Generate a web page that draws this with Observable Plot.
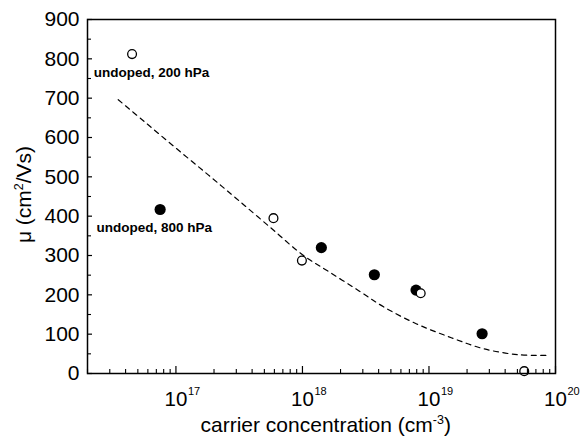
<!DOCTYPE html>
<html><head><meta charset="utf-8">
<script src="https://cdn.jsdelivr.net/npm/d3@7"></script>
<script src="https://cdn.jsdelivr.net/npm/@observablehq/plot@0.6"></script>
<style>body{margin:0;background:#fff}</style>
</head><body><div id="chart"></div>
<script>
// open circles
const openConc = [4.5e16, 5.9e17, 9.9e17, 8.6e18, 5.66e19];
const openMu   = [812, 395, 287, 204, 6];
// filled circles
const filledConc = [7.5e16, 1.41e18, 3.7e18, 7.9e18, 2.63e19];
const filledMu   = [417, 320, 251, 212, 101];
// dashed model curve
const curveConc = [3.5e16, 5.6e16, 1e17, 1.8e17, 3e17, 5.5e17, 1e18, 1.65e18, 2.8e18, 4.4e18, 8e18, 1.5e19, 2.7e19, 5e19, 8.6e19];
const curveMu   = [696, 641, 573, 505, 445, 373, 302, 257, 210, 169, 126, 91, 63, 48, 46];
// annotations
const noteText = ["undoped, 200 hPa", "undoped, 800 hPa"];
const noteConc = [2.24e16, 2.36e16];
const noteMu   = [755, 361];
// ticks
const decadeTicks = [1e17, 1e18, 1e19, 1e20];
const minorXTicks = [16, 17, 18, 19].flatMap(e => [2,3,4,5,6,7,8,9].map(m => m * 10 ** e));
const yTicks = [0, 100, 200, 300, 400, 500, 600, 700, 800, 900];
const yMinorTicks = [50, 150, 250, 350, 450, 550, 650, 750, 850];
const xLabel = "carrier concentration (cm-3)";
const yLabel = "μ (cm2/Vs)";

const open = openConc.map((x, i) => ({x, y: openMu[i]}));
const filled = filledConc.map((x, i) => ({x, y: filledMu[i]}));
const curve = curveConc.map((x, i) => ({x, y: curveMu[i]}));
const notes = noteText.map((t, i) => ({t, x: noteConc[i], y: noteMu[i]}));

const W = 580, H = 437, mL = 87, mR = 25, mT = 19, mB = 64;
const pw = W - mL - mR, ph = H - mT - mB;
const font = "'Liberation Sans', Arial, Helvetica, sans-serif";

const chart = Plot.plot({
  width: W, height: H,
  marginLeft: mL, marginRight: mR, marginTop: mT, marginBottom: mB,
  style: {fontFamily: font, background: "#fff", color: "#000", overflow: "visible"},
  x: {type: "log", domain: [2e16, 1e20], axis: null},
  y: {domain: [0, 900]},
  marks: [
    Plot.line(curve, {x: "x", y: "y", stroke: "#000", strokeWidth: 1.2, strokeDasharray: "5,4.5", curve: "catmull-rom"}),
    Plot.dot(filled, {x: "x", y: "y", r: 5.6, fill: "#000", stroke: "none"}),
    Plot.dot(open, {x: "x", y: "y", r: 4.4, fill: "#fff", stroke: "#000", strokeWidth: 1.3}),
    Plot.tickX(decadeTicks, {x: d => d, insetTop: ph - 7, stroke: "#000", strokeWidth: 1.2}),
    Plot.tickX(minorXTicks, {x: d => d, insetTop: ph - 4, stroke: "#000", strokeWidth: 1.1}),
    Plot.tickY(yTicks, {y: d => d, insetRight: pw - 5, stroke: "#000", strokeWidth: 1.2}),
    Plot.tickY(yMinorTicks, {y: d => d, insetRight: pw - 4, stroke: "#000", strokeWidth: 1.1}),
    Plot.frame({stroke: "#000", strokeWidth: 1.5}),
    Plot.axisY({ticks: yTicks, tickSize: 0, tickPadding: 8, fontSize: 21, label: null, tickFormat: d => String(d)}),
    Plot.text(decadeTicks, {x: d => d, frameAnchor: "bottom", text: () => "10", textAnchor: "middle", lineAnchor: "bottom", dy: 32, fontSize: 20.5}),
    Plot.text(decadeTicks, {x: d => d, frameAnchor: "bottom", text: d => String(Math.round(Math.log10(d))), textAnchor: "start", lineAnchor: "bottom", dx: 12, dy: 21, fontSize: 11}),
    Plot.text(notes, {x: "x", y: "y", text: "t", textAnchor: "start", lineAnchor: "bottom", fontSize: 13.5, fontWeight: "bold"}),
    Plot.text([xLabel], {frameAnchor: "bottom-left", text: d => d, textAnchor: "start", lineAnchor: "bottom", dx: 113, dy: 58, fontSize: 21}),
    Plot.text([yLabel], {frameAnchor: "left", text: d => d, textAnchor: "middle", lineAnchor: "middle", rotate: -90, dx: -63, dy: -2, fontSize: 21})
  ]
});

// superscripts in axis titles
d3.select(chart).selectAll("text").each(function() {
  const el = d3.select(this);
  const t = el.text();
  if (t === xLabel) {
    el.text(null);
    el.append("tspan").text("carrier concentration (cm");
    el.append("tspan").attr("dy", -8).attr("font-size", 12.5).text("-3");
    el.append("tspan").attr("dy", 8).text(")");
  } else if (t === yLabel) {
    el.text(null);
    el.append("tspan").text("μ (cm");
    el.append("tspan").attr("dy", -8).attr("font-size", 12.5).text("2");
    el.append("tspan").attr("dy", 8).text("/Vs)");
  }
});

document.getElementById("chart").appendChild(chart);
</script>
</body></html>
